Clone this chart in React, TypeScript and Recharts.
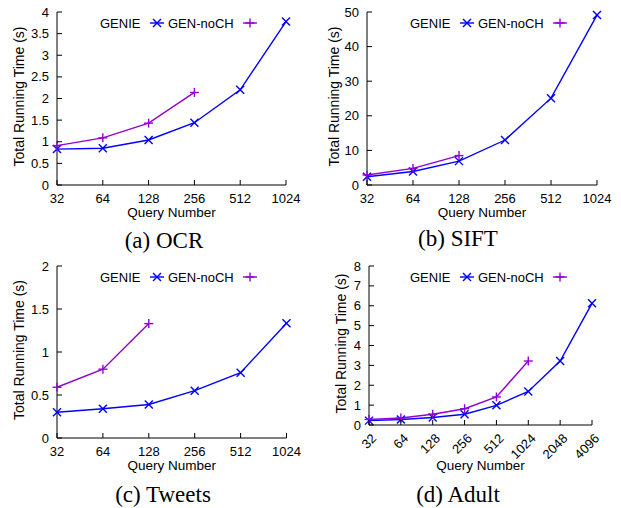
import React from 'react';
import { LineChart, Line, XAxis, YAxis, Legend, Label } from 'recharts';

// ---------- data ----------
const queryNumbers6 = ['32', '64', '128', '256', '512', '1024'];
const queryNumbers8 = ['32', '64', '128', '256', '512', '1024', '2048', '4096'];

const ocrGenie = [0.83, 0.85, 1.04, 1.44, 2.2, 3.78];
const ocrNoCH = [0.91, 1.09, 1.43, 2.14];

const siftGenie = [2.4, 3.9, 6.9, 13, 25.1, 49.1];
const siftNoCH = [2.9, 4.8, 8.5];

const tweetsGenie = [0.3, 0.34, 0.39, 0.55, 0.76, 1.335];
const tweetsNoCH = [0.59, 0.8, 1.33];

const adultGenie = [0.22, 0.28, 0.38, 0.54, 0.99, 1.69, 3.22, 6.12];
const adultNoCH = [0.28, 0.35, 0.54, 0.82, 1.41, 3.22];

const ocrTicks = [0, 0.5, 1, 1.5, 2, 2.5, 3, 3.5, 4];
const siftTicks = [0, 10, 20, 30, 40, 50];
const tweetsTicks = [0, 0.5, 1, 1.5, 2];
const adultTicks = [0, 1, 2, 3, 4, 5, 6, 7, 8];

const seriesNames = ['GENIE', 'GEN-noCH'];
const captions = ['(a) OCR', '(b) SIFT', '(c) Tweets', '(d) Adult'];

// ---------- style ----------
const BLUE = '#0000ff';
const PURPLE = '#9400d3';
const FONT = '"Liberation Sans", Arial, Helvetica, sans-serif';
const FS = 13;
const LW = 1.4;

const build = (cats: string[], a: number[], b: number[]) =>
  cats.map((q, i) => ({ q, genie: a[i], noch: b[i] }));

const XMark = ({ cx, cy }: { cx: number; cy: number }) => (
  <g stroke={BLUE} strokeWidth={LW}>
    <line x1={cx - 4} y1={cy - 4} x2={cx + 4} y2={cy + 4} />
    <line x1={cx - 4} y1={cy + 4} x2={cx + 4} y2={cy - 4} />
  </g>
);
const PlusMark = ({ cx, cy }: { cx: number; cy: number }) => (
  <g stroke={PURPLE} strokeWidth={LW}>
    <line x1={cx - 4.5} y1={cy} x2={cx + 4.5} y2={cy} />
    <line x1={cx} y1={cy - 4.5} x2={cx} y2={cy + 4.5} />
  </g>
);

const renderX = (p: any) => {
  const { cx, cy, index } = p;
  if (cx == null || cy == null || p.value == null) return <g key={`x${index}`} />;
  return <XMark key={`x${index}`} cx={cx} cy={cy} />;
};
const renderPlus = (p: any) => {
  const { cx, cy, index } = p;
  if (cx == null || cy == null || p.value == null) return <g key={`p${index}`} />;
  return <PlusMark key={`p${index}`} cx={cx} cy={cy} />;
};

const LegendContent = () => (
  <svg width={170} height={16} style={{ overflow: 'visible', display: 'block' }}>
    <text x={0} y={12.5} fontSize={FS} fontFamily={FONT} fill="#000">
      {seriesNames[0]}
    </text>
    <line x1={50} y1={8} x2={64} y2={8} stroke={BLUE} strokeWidth={LW} />
    <XMark cx={57} cy={8} />
    <text x={68} y={12.5} fontSize={FS} fontFamily={FONT} fill="#000">
      {seriesNames[1]}
    </text>
    <line x1={143} y1={8} x2={157} y2={8} stroke={PURPLE} strokeWidth={LW} />
    <PlusMark cx={150} cy={8} />
  </svg>
);

const makeXTick = (rotate: boolean) => (p: any) => {
  const { x, y, payload } = p;
  return (
    <g>
      <line x1={x} y1={y} x2={x} y2={y - 5} stroke="#000" strokeWidth={1} />
      {rotate ? (
        <text
          x={x + 5}
          y={y + 11}
          textAnchor="end"
          dy="0.35em"
          fontSize={FS}
          fontFamily={FONT}
          fill="#000"
          transform={`rotate(-45 ${x + 5} ${y + 11})`}
        >
          {payload.value}
        </text>
      ) : (
        <text x={x} y={y + 18} textAnchor="middle" fontSize={FS} fontFamily={FONT} fill="#000">
          {payload.value}
        </text>
      )}
    </g>
  );
};

const YTick = (p: any) => {
  const { x, y, payload } = p;
  return (
    <g>
      <line x1={x} y1={y} x2={x + 5} y2={y} stroke="#000" strokeWidth={1} />
      <text x={x - 8} y={y} dy="0.35em" textAnchor="end" fontSize={FS} fontFamily={FONT} fill="#000">
        {payload.value}
      </text>
    </g>
  );
};

type PanelProps = {
  left: number;
  top: number;
  width: number;
  height: number;
  plotLeft: number;
  plotRight: number;
  plotTop: number;
  xAxisHeight: number;
  data: any[];
  yTicks: number[];
  rotate?: boolean;
  yTitleX: number;
  xTitleBaseline: number;
};

const Panel = (pp: PanelProps) => {
  const yMax = pp.yTicks[pp.yTicks.length - 1];
  return (
    <div style={{ position: 'absolute', left: pp.left, top: pp.top, width: pp.width, height: pp.height }}>
      <LineChart
        width={pp.width}
        height={pp.height}
        data={pp.data}
        margin={{ top: pp.plotTop, right: pp.width - pp.plotRight, left: 0, bottom: 0 }}
      >
        <XAxis
          dataKey="q"
          type="category"
          interval={0}
          height={pp.xAxisHeight}
          tickLine={false}
          tickSize={0}
          tickMargin={0}
          axisLine={{ stroke: '#000', strokeWidth: 1 }}
          tick={makeXTick(!!pp.rotate)}
        >
          <Label
            content={(lp: any) => {
              const vb = lp.viewBox || {};
              return (
                <text
                  x={vb.x + vb.width / 2}
                  y={vb.y + pp.xTitleBaseline}
                  textAnchor="middle"
                  fontSize={13.5}
                  fontFamily={FONT}
                  fill="#000"
                >
                  Query Number
                </text>
              );
            }}
          />
        </XAxis>
        <YAxis
          type="number"
          width={pp.plotLeft}
          domain={[0, yMax]}
          ticks={pp.yTicks}
          interval={0}
          tickLine={false}
          tickSize={0}
          tickMargin={0}
          axisLine={{ stroke: '#000', strokeWidth: 1 }}
          tick={YTick}
        >
          <Label
            content={(lp: any) => {
              const vb = lp.viewBox || {};
              const cy = vb.y + vb.height / 2 - 2;
              return (
                <text
                  x={pp.yTitleX}
                  y={cy}
                  textAnchor="middle"
                  fontSize={14}
                  fontFamily={FONT}
                  fill="#000"
                  transform={`rotate(-90 ${pp.yTitleX} ${cy})`}
                >
                  Total Running Time (s)
                </text>
              );
            }}
          />
        </YAxis>
        <Legend
          layout="horizontal"
          verticalAlign="middle"
          align="center"
          content={LegendContent}
          wrapperStyle={{ left: 100, top: pp.plotTop + 3, width: 170, height: 16 }}
        />
        <Line
          dataKey="genie"
          stroke={BLUE}
          strokeWidth={LW}
          dot={renderX}
          activeDot={false}
          isAnimationActive={false}
        />
        <Line
          dataKey="noch"
          stroke={PURPLE}
          strokeWidth={LW}
          dot={renderPlus}
          activeDot={false}
          isAnimationActive={false}
        />
      </LineChart>
    </div>
  );
};

export default function App() {
  return (
    <div style={{ position: 'absolute', left: 0, top: 0, width: 621, height: 508, background: '#fff' }}>
      <Panel
        left={0}
        top={0}
        width={310}
        height={225}
        plotLeft={57}
        plotRight={286}
        plotTop={12}
        xAxisHeight={40}
        data={build(queryNumbers6, ocrGenie, ocrNoCH)}
        yTicks={ocrTicks}
        yTitleX={24}
        xTitleBaseline={32}
      />
      <Panel
        left={310}
        top={0}
        width={311}
        height={225}
        plotLeft={57}
        plotRight={287}
        plotTop={12}
        xAxisHeight={40}
        data={build(queryNumbers6, siftGenie, siftNoCH)}
        yTicks={siftTicks}
        yTitleX={29}
        xTitleBaseline={32}
      />
      <Panel
        left={0}
        top={250}
        width={310}
        height={228}
        plotLeft={57}
        plotRight={286.5}
        plotTop={16}
        xAxisHeight={40}
        data={build(queryNumbers6, tweetsGenie, tweetsNoCH)}
        yTicks={tweetsTicks}
        yTitleX={24}
        xTitleBaseline={32}
      />
      <Panel
        left={310}
        top={250}
        width={311}
        height={230}
        plotLeft={59}
        plotRight={282}
        plotTop={16}
        xAxisHeight={55}
        data={build(queryNumbers8, adultGenie, adultNoCH)}
        yTicks={adultTicks}
        rotate
        yTitleX={36}
        xTitleBaseline={45}
      />
      <svg
        width={621}
        height={508}
        style={{ position: 'absolute', left: 0, top: 0, pointerEvents: 'none' }}
      >
        {[
          [164, 248],
          [458, 246],
          [163, 502],
          [458, 502],
        ].map(([cx, by], i) => (
          <text
            key={i}
            x={cx}
            y={by}
            textAnchor="middle"
            fontSize={23}
            fontFamily='"Liberation Serif", "Times New Roman", serif'
            fill="#000"
          >
            {captions[i]}
          </text>
        ))}
      </svg>
    </div>
  );
}
